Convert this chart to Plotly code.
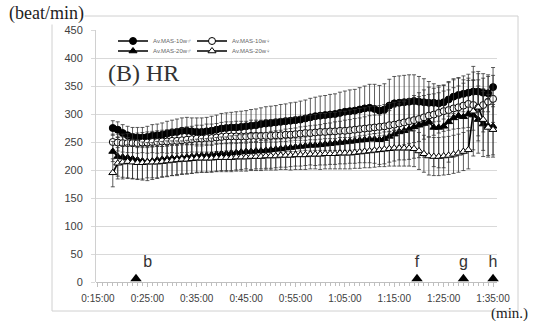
import plotly.graph_objects as go

# ---------------- data ----------------
minutes = list(range(18, 96))  # sampling times (minutes)

tick_vals = [15, 25, 35, 45, 55, 65, 75, 85, 95]
tick_text = ["0:15:00", "0:25:00", "0:35:00", "0:45:00", "0:55:00",
             "1:05:00", "1:15:00", "1:25:00", "1:35:00"]

series_names = ["Av.MAS-10w\u2642", "Av.MAS-10w\u2640", "Av.MAS-20w\u2642", "Av.MAS-20w\u2640"]

hr_m10 = [275, 272, 266, 262, 259, 258, 258, 259, 261, 262,
          263, 265, 267, 268, 270, 270, 269, 268, 268, 269,
          270, 272, 274, 275, 276, 276, 277, 278, 279, 280,
          282, 283, 284, 285, 286, 287, 288, 289, 290, 292,
          294, 296, 297, 298, 299, 300, 302, 304, 305, 306,
          308, 310, 311, 309, 306, 308, 315, 319, 320, 321,
          322, 323, 322, 321, 320, 320, 319, 321, 326, 331,
          334, 336, 338, 340, 340, 338, 337, 348]
err_m10 = [13, 14, 15, 16, 17, 18, 18, 19, 20, 20,
           21, 22, 22, 23, 23, 24, 24, 25, 25, 25,
           26, 26, 27, 27, 27, 28, 28, 28, 29, 29,
           29, 30, 30, 30, 31, 31, 32, 32, 33, 33,
           34, 34, 35, 35, 36, 36, 37, 37, 38, 38,
           39, 40, 42, 44, 45, 46, 47, 48, 48, 48,
           48, 47, 45, 42, 38, 34, 32, 30, 30, 30,
           30, 32, 33, 35, 36, 34, 33, 35]

hr_f10 = [250, 249, 248, 248, 248, 248, 249, 249, 250, 250,
          251, 251, 252, 252, 253, 254, 255, 256, 256, 257,
          257, 258, 259, 260, 260, 260, 260, 260, 261, 261,
          261, 261, 261, 262, 262, 263, 263, 264, 265, 266,
          266, 267, 268, 268, 269, 269, 270, 270, 271, 272,
          273, 274, 275, 276, 277, 278, 280, 281, 283, 285,
          287, 289, 291, 294, 297, 299, 302, 305, 307, 310,
          312, 315, 318, 316, 311, 316, 322, 327]
err_f10 = [14, 15, 16, 17, 17, 18, 18, 19, 19, 20,
           20, 21, 21, 22, 22, 23, 23, 24, 24, 25,
           25, 25, 26, 26, 26, 27, 27, 27, 28, 28,
           28, 29, 29, 29, 30, 30, 30, 31, 31, 31,
           32, 32, 33, 33, 34, 34, 35, 35, 36, 36,
           37, 37, 38, 38, 38, 39, 39, 40, 40, 40,
           40, 40, 40, 39, 38, 37, 36, 36, 36, 37,
           38, 40, 42, 45, 50, 48, 45, 42]

hr_m20 = [233, 224, 223, 222, 220, 218, 216, 215, 216, 218,
          219, 220, 221, 221, 222, 223, 224, 225, 226, 226,
          227, 228, 229, 229, 230, 231, 232, 233, 233, 234,
          234, 235, 236, 237, 238, 239, 240, 241, 242, 243,
          244, 244, 245, 246, 247, 248, 249, 250, 251, 252,
          253, 254, 255, 255, 254, 256, 260, 264, 268, 270,
          273, 277, 280, 283, 286, 276, 276, 278, 286, 293,
          297, 295, 300, 298, 290, 282, 279, 278]
err_m20 = [18, 35, 36, 36, 35, 35, 34, 34, 33, 33,
           32, 32, 31, 31, 30, 30, 30, 30, 30, 30,
           30, 30, 30, 30, 31, 31, 31, 31, 32, 32,
           32, 32, 33, 33, 33, 34, 34, 34, 35, 35,
           35, 36, 36, 37, 37, 38, 38, 39, 39, 40,
           40, 41, 42, 43, 44, 45, 46, 48, 50, 52,
           54, 56, 58, 60, 62, 70, 72, 74, 72, 70,
           68, 66, 64, 62, 60, 58, 56, 55]

hr_f20 = [195, 212, 214, 215, 214, 213, 213, 214, 214, 214,
          215, 216, 217, 218, 219, 219, 220, 221, 221, 221,
          221, 222, 222, 222, 222, 223, 223, 223, 224, 224,
          224, 225, 225, 225, 226, 226, 226, 227, 227, 227,
          228, 228, 228, 229, 229, 229, 230, 230, 230, 231,
          232, 233, 234, 235, 236, 237, 238, 239, 239, 239,
          239, 238, 234, 229, 225, 224, 224, 225, 226, 228,
          230, 233, 236, 305, 312, 290, 276, 272]
err_f20 = [25, 28, 30, 30, 30, 29, 29, 28, 28, 28,
           27, 27, 27, 26, 26, 26, 26, 25, 25, 25,
           25, 25, 25, 25, 25, 25, 25, 25, 25, 25,
           25, 25, 25, 25, 25, 25, 26, 26, 26, 26,
           26, 26, 27, 27, 27, 27, 28, 28, 28, 28,
           29, 29, 30, 30, 30, 31, 31, 32, 32, 32,
           32, 32, 33, 33, 34, 34, 34, 34, 34, 34,
           34, 34, 34, 80, 60, 55, 50, 45]

event_times = [22.7, 79.6, 89.0, 95.0]
event_labels = ["b", "f", "g", "h"]
event_level = [6, 6, 6, 6]

# ---------------- figure ----------------
fig = go.Figure()

markers = [
    dict(symbol="circle", size=7, color="black", line=dict(color="black", width=1)),
    dict(symbol="circle", size=7, color="white", line=dict(color="black", width=1)),
    dict(symbol="triangle-up", size=7, color="black", line=dict(color="black", width=1)),
    dict(symbol="triangle-up", size=7, color="white", line=dict(color="black", width=1)),
]
values = [hr_m10, hr_f10, hr_m20, hr_f20]
errors = [err_m10, err_f10, err_m20, err_f20]
legends = ["legend", "legend", "legend2", "legend2"]

for name, v, e, mk, lg in zip(series_names, values, errors, markers, legends):
    fig.add_trace(go.Scatter(
        x=minutes, y=v, name=name, mode="lines+markers",
        line=dict(color="black", width=1.6),
        marker=mk,
        error_y=dict(type="data", array=e, visible=True, color="#333333", thickness=0.8, width=2),
        legend=lg,
    ))

fig.add_trace(go.Scatter(
    x=event_times, y=event_level, mode="markers+text",
    marker=dict(symbol="triangle-up", size=10, color="black"),
    text=event_labels,
    textposition=["top right", "top center", "top center", "top center"],
    textfont=dict(family="Liberation Sans", size=16, color="#333333"),
    showlegend=False, hoverinfo="skip", cliponaxis=False,
))

L, R, T, B = 96, 47, 30, 39
W, H = 544, 321
pw, ph = W - L - R, H - T - B


def px_x(p):
    return (p - L) / pw


def px_y(p):
    return (H - B - p) / ph


legend_style = dict(orientation="h", xanchor="left", yanchor="middle",
                    font=dict(size=6, color="#666666"), itemwidth=30, entrywidth=34,
                    bgcolor="rgba(0,0,0,0)", tracegroupgap=0)

fig.update_layout(
    width=W, height=H,
    margin=dict(l=L, r=R, t=T, b=B),
    paper_bgcolor="white", plot_bgcolor="white",
    font=dict(family="Liberation Sans", color="#404040"),
    legend=dict(legend_style, x=px_x(113), y=px_y(41)),
    legend2=dict(legend_style, x=px_x(113), y=px_y(51)),
    xaxis=dict(range=[14.6, 95.8], tickvals=tick_vals, ticktext=tick_text,
               showgrid=False, zeroline=False, showline=False,
               ticks="outside", ticklen=4, tickcolor="#bfbfbf",
               minor=dict(dtick=1, ticks="outside", ticklen=3, tickcolor="#bfbfbf", showgrid=False),
               tickfont=dict(size=10, color="#404040"), ticklabelstandoff=3),
    yaxis=dict(range=[0, 450], dtick=50, showgrid=True, gridcolor="#d9d9d9", gridwidth=1,
               zeroline=True, zerolinecolor="#bfbfbf", zerolinewidth=1,
               showline=True, linecolor="#d0d0d0", linewidth=1,
               ticks="outside", ticklen=4, tickcolor="#d9d9d9",
               tickfont=dict(size=11, color="#404040"), ticklabelstandoff=6),
    showlegend=True,
)

# outer chart frame
fig.add_shape(type="rect", xref="paper", yref="paper",
              x0=px_x(52), x1=px_x(518), y0=px_y(311), y1=px_y(16),
              line=dict(color="#d0d0d0", width=1), layer="below")

fig.add_annotation(text="(B) HR", xref="paper", yref="paper", x=px_x(106), y=px_y(73),
                   xanchor="left", yanchor="middle", showarrow=False,
                   font=dict(family="Liberation Serif", size=24, color="#333333"))
fig.add_annotation(text="(beat/min)", xref="paper", yref="paper", x=px_x(8), y=px_y(13),
                   xanchor="left", yanchor="middle", showarrow=False, bgcolor="white",
                   borderpad=0,
                   font=dict(family="Liberation Serif", size=18, color="#222222"))
fig.add_annotation(text="(min.)", xref="paper", yref="paper", x=px_x(490), y=px_y(313),
                   xanchor="left", yanchor="middle", showarrow=False, bgcolor="rgba(255,255,255,0)",
                   borderpad=0,
                   font=dict(family="Liberation Serif", size=15, color="#222222"))

fig.write_html("out.html",
               config={"displayModeBar": False},
               post_script="document.body.style.margin='0px';document.body.style.overflow='hidden';")
